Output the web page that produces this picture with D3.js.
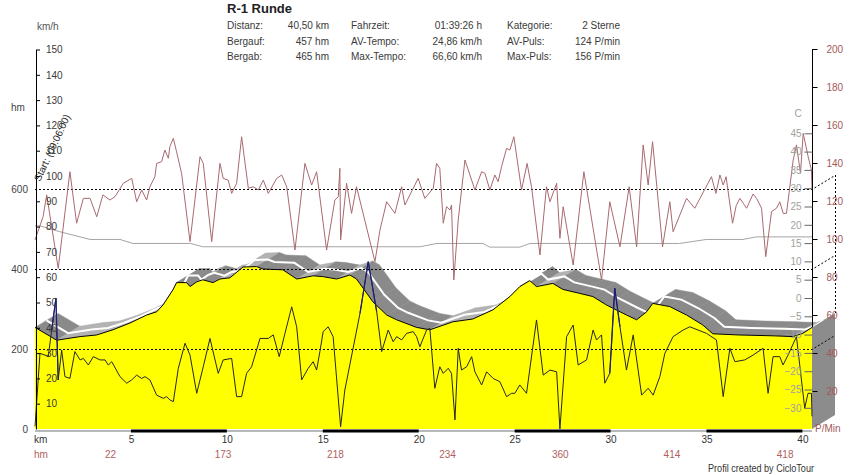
<!DOCTYPE html>
<html><head><meta charset="utf-8">
<script src="https://cdn.jsdelivr.net/npm/d3@7"></script>
<style>
html,body{margin:0;padding:0;background:#fff;}
svg{display:block;font-family:"Liberation Sans",Arial,sans-serif;}
</style></head><body>
<svg id="c" width="851" height="475"></svg>
<script>
// ---------------- data ----------------
const title = "R-1 Runde";
const statLabels = [["Distanz:","Bergauf:","Bergab:"],["Fahrzeit:","AV-Tempo:","Max-Tempo:"],["Kategorie:","AV-Puls:","Max-Puls:"]];
const statValues = [["40,50 km","457 hm","465 hm"],["01:39:26 h","24,86 km/h","66,60 km/h"],["2 Sterne","124 P/min","156 P/min"]];
const startLabel = "Start: (09:06:00)";
const footer = "Profil created by CicloTour";
const totalKm = 40.5;

// elevation profile [km, hm]
const elevation = [[0,254],[1.13,222],[2.35,231],[3.2,235],[4.06,248],[4.95,265],[5.82,285],[6.34,293],[6.67,310],[7.19,348],[7.38,366],[7.9,366],[8.08,356],[8.43,368],[8.75,373],[9.28,366],[9.64,375],[10.16,378],[10.84,405],[11.55,406],[11.88,400],[12.92,398],[13.64,375],[14.49,383],[15.0,381],[15.72,375],[16.41,385],[16.76,375],[17.61,318],[18.33,285],[18.85,273],[19.89,254],[20.58,248],[21.78,268],[22.82,275],[23.87,298],[24.75,331],[25.27,356],[25.79,371],[26.14,356],[26.99,364],[27.51,349],[28.4,339],[29.08,331],[29.79,310],[30.83,285],[31.36,273],[31.88,293],[32.2,314],[33.09,306],[33.96,285],[34.81,260],[35.33,238],[36.74,235],[38.46,233],[39.5,231],[40.02,239],[40.5,254]];

// heart rate [km, P/min]
const heartRate = [[0,99.5],[0.42,111.7],[0.61,123.2],[1.21,84.6],[1.82,135.4],[2.17,108.3],[2.52,121.4],[2.87,121.4],[3.22,111.7],[3.54,123.2],[3.91,120.5],[4.17,122.3],[4.6,129.3],[5.04,131.9],[5.3,119.6],[5.56,125.8],[5.82,120.5],[5.99,127.5],[6.25,132.8],[6.34,139.8],[6.6,140.7],[6.77,146.8],[6.95,142.5],[7.03,148.6],[7.21,153],[7.38,145.9],[7.64,134.6],[8.08,98.6],[8.6,143.3],[8.77,139.8],[9.21,98.6],[9.64,139.8],[9.81,131.9],[10.07,131],[10.25,124],[10.51,129.3],[10.77,153.8],[11.12,126.7],[11.38,127.5],[11.64,125.8],[11.9,131],[12.16,124],[12.6,131.9],[12.86,133.7],[13.12,127.5],[13.55,94.2],[14.07,139.8],[14.42,128.4],[14.68,135.4],[15.2,94.2],[15.63,120.5],[15.81,122.3],[15.89,137.2],[15.93,99.5],[16.24,129.3],[16.5,113.5],[16.76,127.5],[17.72,88.1],[17.98,104.7],[18.33,119.6],[18.76,113.5],[19.11,127.5],[19.28,117.9],[19.97,131.9],[20.32,121.4],[20.76,126.7],[20.93,139.8],[21.1,137.2],[21.28,108.3],[21.45,117],[21.63,115.3],[21.71,117.9],[21.83,78.4],[22.06,110],[22.41,141.6],[22.93,125.8],[23.28,135.4],[23.45,134.6],[23.71,125.8],[23.97,133.7],[24.14,130.2],[24.32,138.1],[24.58,147.7],[24.75,146.8],[24.96,153.8],[25.36,125.8],[25.65,139.8],[25.88,127.5],[26.32,91.6],[26.66,127.5],[26.84,119.6],[27.19,129.3],[27.36,100.4],[27.53,117],[28.05,86.3],[28.61,135.4],[29.53,78.4],[29.96,119.6],[30.49,95.9],[30.97,127.5],[31.36,95.9],[31.7,149.5],[31.96,128.4],[32.19,151.2],[32.71,95.9],[33.09,119.6],[33.26,103.8],[33.96,121.4],[34.39,116.2],[35.26,132.8],[35.49,124],[35.7,133.7],[35.87,128.4],[36.02,132.8],[36.36,108.3],[36.55,117.6],[36.74,121.4],[37.09,116.2],[37.43,123.7],[37.61,121.4],[37.87,116.2],[38.09,90.7],[38.39,114.4],[38.65,116.2],[38.82,119.6],[39.0,113.5],[39.17,113.5],[39.52,141.6],[39.69,149.5],[39.9,134.6],[40.04,155.6],[40.3,143.3],[40.47,136.3],[40.5,126.7]];

// speed [km, km/h]
const speed = [[0,1],[0.26,29.9],[0.52,29.2],[0.69,28.6],[0.87,39.1],[1.09,51.7],[1.21,19.4],[1.39,31.2],[1.56,20.7],[1.82,20],[2.08,30.6],[2.35,27.3],[2.52,27.9],[2.78,25.3],[3.04,28.6],[3.39,27.3],[3.65,27.3],[3.82,25.3],[4.0,26.6],[4.43,20.7],[4.78,18.1],[5.04,19.4],[5.3,21.3],[5.56,20],[5.73,20.7],[5.99,19.4],[6.34,13.4],[6.69,12.1],[6.86,12.8],[7.03,11.5],[7.21,10.8],[7.47,24],[7.82,33.9],[8.08,29.2],[8.43,14.1],[8.77,24.6],[9.12,35.8],[9.55,22],[9.81,27.3],[10.25,27.9],[10.51,12.8],[10.77,12.8],[11.03,22],[11.29,24.6],[11.73,35.8],[12.16,35.8],[12.42,37.2],[12.73,28.6],[13.03,37.8],[13.38,48.3],[13.64,40.4],[13.9,19.4],[14.24,24],[14.5,26.6],[14.68,23.3],[14.85,30.6],[15.02,38.5],[15.28,40.4],[15.54,36.5],[15.93,0.9],[16.15,15.4],[16.94,45.7],[17.37,66.1],[17.81,46.4],[18.07,30.6],[18.41,39.1],[18.67,34.5],[18.85,36.5],[19.11,35.2],[19.37,37.8],[19.71,38.5],[19.89,36.5],[20.06,32.5],[20.41,39.1],[20.58,39.8],[20.84,16.1],[21.1,24.6],[21.28,22],[21.54,24],[21.71,22],[21.89,3.6],[22.06,31.9],[22.23,23.3],[22.5,24.6],[22.76,28.6],[22.93,22.6],[23.28,17.4],[23.54,22.6],[23.88,20],[24.23,18.7],[24.58,12.8],[24.84,14.1],[25.01,14.1],[25.27,17.4],[25.62,14.1],[26.14,43.1],[26.49,21.3],[26.84,23.3],[27.19,22.6],[27.36,0],[27.71,36.5],[28.05,41.1],[28.31,25.3],[28.75,27.3],[29.09,39.1],[29.27,35.2],[29.53,37.2],[29.7,18.1],[29.96,22],[30.22,55.6],[30.49,40.4],[30.83,23.3],[31.18,37.2],[31.62,13.4],[31.96,16.1],[32.22,13.4],[32.57,20.7],[32.83,29.9],[33.26,36.5],[33.78,39.1],[34.13,40.4],[35.0,37.8],[35.52,35.2],[35.87,12.8],[36.22,31.9],[36.48,26.6],[36.99,27.3],[37.43,29.2],[37.95,31.9],[38.21,14.1],[38.47,28.6],[38.82,28.6],[38.99,25.3],[39.25,29.2],[39.69,36.5],[39.95,19.4],[40.12,8.2],[40.29,14.1],[40.47,14.1],[40.5,5]];

// temperature [km, °C]
const temperature = [[0,19.7],[0.26,19.7],[1.3,18.1],[2.87,16.0],[4.43,16.0],[5.1,14.9],[8.1,14.9],[8.75,14.0],[20.06,14.0],[20.95,14.9],[23.35,14.9],[23.7,13.9],[25.27,13.9],[25.8,14.9],[33.6,14.9],[35.0,16.0],[36.9,16.0],[37.6,16.7],[40.5,16.7]];

// tick values and labels
const kmTicks = [5,10,15,20,25,30,35,40];
const hmTicks = [0,200,400,600];
const hmGrid = [200,400,600];
const speedTicks = [10,20,30,40,50,60,70,80,90,100,110,120,130,140,150];
const pulseTicks = [20,40,60,80,100,120,140,160,180,200];
const tempTicks = [-30,-25,-20,-15,-10,-5,0,5,10,15,20,25,30,35,40,45];
const climbKm = [3.94,9.8,15.66,21.5,27.38,33.2,39.1];
const climbHm = [22,173,218,234,360,414,418];

// ---------------- drawing ----------------
const svg = d3.select("#c");
const FONT = '"Liberation Sans",Arial,sans-serif';
const x = d3.scaleLinear().domain([0,totalKm]).range([35,812]);
const yHm = d3.scaleLinear().domain([0,600]).range([429,189]);
const ySpeed = d3.scaleLinear().domain([0,150]).range([429,49.5]);
const yHR = d3.scaleLinear().domain([0,200]).range([429,49]);
const yTemp = d3.scaleLinear().domain([0,45]).range([298,133.3]);
const DX = 23, DY = -14;

// 3D ribbon
const pts = elevation.map(d => [x(d[0]), yHm(d[1])]);
const rib = svg.append("g");
for (let i = 0; i < pts.length-1; i++) {
  const a = pts[i], b = pts[i+1];
  const up = elevation[i+1][1] > elevation[i][1];
  rib.append("polygon")
    .attr("points", [a, b, [b[0]+DX, b[1]+DY], [a[0]+DX, a[1]+DY]].map(p => p.join(",")).join(" "))
    .attr("fill", up ? "#b2b2b2" : "#8a8a8a")
    .attr("stroke", up ? "#b2b2b2" : "#8a8a8a").attr("stroke-width", 0.5);
}
rib.append("path")
  .attr("d", d3.line().x(d => x(d[0]) + DX/2).y(d => yHm(d[1]) + DY/2)(elevation))
  .attr("fill", "none").attr("stroke", "#fff").attr("stroke-width", 2);

// yellow profile area
svg.append("path")
  .attr("d", d3.area().x(d => x(d[0])).y0(yHm(0)).y1(d => yHm(d[1]))(elevation))
  .attr("fill", "#ffff00");
svg.append("path")
  .attr("d", d3.line().x(d => x(d[0])).y(d => yHm(d[1]))(elevation))
  .attr("fill", "none").attr("stroke", "#000").attr("stroke-width", 1);

const xEnd = x(totalKm);
const eEnd = elevation[elevation.length-1][1];

// end face of the extrusion
svg.append("polygon")
  .attr("points", [[xEnd, yHm(eEnd)], [xEnd+DX, yHm(eEnd)+DY], [xEnd+DX, yHm(0)+DY], [xEnd, yHm(0)]].map(p => p.join(",")).join(" "))
  .attr("fill", "#8c8c8c");

// dotted grid lines with perspective tail
hmGrid.forEach(v => {
  svg.append("path")
    .attr("d", `M${x(0)},${yHm(v)+0.5}H${xEnd}L${xEnd+DX},${yHm(v)+DY+0.5}`)
    .attr("fill", "none").attr("stroke", "#000").attr("stroke-width", 1).attr("stroke-dasharray", "2,2");
});
svg.append("line")
  .attr("x1", xEnd+DX+0.5).attr("x2", xEnd+DX+0.5)
  .attr("y1", yHm(600)+DY).attr("y2", yHm(eEnd)+DY)
  .attr("stroke", "#000").attr("stroke-dasharray", "2,2");

// temperature line
svg.append("path")
  .attr("d", d3.line().x(d => x(d[0])).y(d => yTemp(d[1]))(temperature))
  .attr("fill", "none").attr("stroke", "#a4a4a4").attr("stroke-width", 1);

// heart rate line
svg.append("path")
  .attr("d", d3.line().x(d => x(d[0])).y(d => yHR(d[1]))(heartRate))
  .attr("fill", "none").attr("stroke", "#a86a70").attr("stroke-width", 1);

// speed line
svg.append("path")
  .attr("d", d3.line().x(d => x(d[0])).y(d => ySpeed(d[1]))(speed))
  .attr("fill", "none").attr("stroke", "#262626").attr("stroke-width", 1);
for (let i = 0; i < speed.length-1; i++) {
  if (Math.max(speed[i][1], speed[i+1][1]) > 50) {
    svg.append("line")
      .attr("x1", x(speed[i][0])).attr("y1", ySpeed(speed[i][1]))
      .attr("x2", x(speed[i+1][0])).attr("y2", ySpeed(speed[i+1][1]))
      .attr("stroke", "#1c1c80").attr("stroke-width", 1.2);
  }
}

// bottom axis: base line and black bars
svg.append("line").attr("x1", x(0)).attr("x2", xEnd).attr("y1", 431).attr("y2", 431)
  .attr("stroke", "#a0a0a0").attr("stroke-width", 1.5);
kmTicks.forEach((k, i) => {
  if (i % 2 === 1) {
    svg.append("rect").attr("x", x(kmTicks[i-1])).attr("width", x(k) - x(kmTicks[i-1]))
      .attr("y", 429.5).attr("height", 3).attr("fill", "#000");
  }
});

function styleAxis(g, color, size) {
  g.attr("font-family", FONT).attr("font-size", size || 10);
  g.selectAll("text").attr("fill", color);
}

const xAxis = svg.append("g").attr("transform", "translate(0,430)")
  .call(d3.axisBottom(x).tickValues(kmTicks).tickSize(0).tickPadding(6).tickFormat(d3.format("d")));
xAxis.select(".domain").remove();
styleAxis(xAxis, "#333");

// left speed axis
const sAxis = svg.append("g").attr("transform", "translate(36,0)")
  .call(d3.axisRight(ySpeed).tickValues(speedTicks).tickSize(4).tickSizeOuter(0).tickPadding(6));
sAxis.select(".domain").attr("stroke", "#000");
sAxis.selectAll(".tick line").attr("stroke", "#000");
styleAxis(sAxis, "#3a3a3a");

// left hm labels
const hmAxis = svg.append("g").attr("transform", "translate(36,0)")
  .call(d3.axisLeft(yHm).tickValues(hmTicks).tickSize(0).tickPadding(8));
hmAxis.select(".domain").remove();
styleAxis(hmAxis, "#444");

// right pulse axis
const pAxis = svg.append("g").attr("transform", `translate(${xEnd+0.5},0)`)
  .call(d3.axisRight(yHR).tickValues(pulseTicks).tickSize(5).tickSizeOuter(0).tickPadding(9));
pAxis.select(".domain").attr("stroke", "#000").attr("d", `M0,${yHR(200)}V${yHm(eEnd)}`);
styleAxis(pAxis, "#a45a5a");

// right temperature axis
const tAxis = svg.append("g").attr("transform", `translate(${xEnd+0.5},0)`)
  .call(d3.axisLeft(yTemp).tickValues(tempTicks).tickSize(8).tickPadding(3));
tAxis.select(".domain").remove();
tAxis.selectAll(".tick line").attr("stroke", "#666");
styleAxis(tAxis, "#a0a0a0");

// text labels
function txt(t, xx, yy, opts) {
  opts = opts || {};
  return svg.append("text").text(t).attr("x", xx).attr("y", yy)
    .attr("font-family", FONT).attr("font-size", opts.size || 10)
    .attr("font-weight", opts.weight || "normal")
    .attr("fill", opts.color || "#333")
    .attr("text-anchor", opts.anchor || "start");
}
txt(title, 227, 13, {size: 13, weight: "bold", color: "#222"});
const colLabelX = [227, 351, 507];
const colValueX = [329, 482, 620];
const rowY = [29, 44.5, 60];
statLabels.forEach((col, c) => col.forEach((l, r) => txt(l, colLabelX[c], rowY[r], {color: "#3a3a3a"})));
statValues.forEach((col, c) => col.forEach((v, r) => txt(v, colValueX[c], rowY[r], {color: "#3a3a3a", anchor: "end"})));

txt("km/h", 37, 30, {color: "#555"});
txt("hm", 11, 111, {color: "#444"});
txt("C", 798, 117, {color: "#a0a0a0", anchor: "middle"});
txt("P/Min", 815, 432, {color: "#a45a5a"});
txt("km", 34, 443, {color: "#333"});
txt("hm", 34, 458, {color: "#b06060"});
climbKm.forEach((k, i) => txt(String(climbHm[i]), x(k), 458, {color: "#b06060", anchor: "middle"}));
txt(footer, 708, 471.5, {color: "#333", size: 10})
  .attr("textLength", 106).attr("lengthAdjust", "spacingAndGlyphs");

svg.append("text").text(startLabel)
  .attr("transform", "translate(40,182) rotate(-65)")
  .attr("font-family", FONT).attr("font-size", 10).attr("fill", "#222");
</script>
</body></html>
